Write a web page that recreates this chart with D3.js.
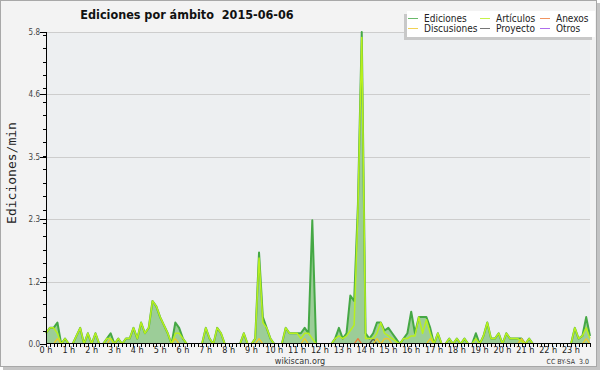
<!DOCTYPE html>
<html><head><meta charset="utf-8">
<script src="https://cdn.jsdelivr.net/npm/d3@7"></script>
<style>
body{margin:0;background:#fff;}
text{font-family:"DejaVu Sans Condensed","DejaVu Sans",sans-serif;font-stretch:condensed;white-space:pre;}
</style></head>
<body><svg id="c" width="600" height="370"></svg>
<script>
const title = "Ediciones por ámbito  2015-06-06";
const yLabel = "Ediciones/min";
const hourLabels = ["0 h","1 h","2 h","3 h","4 h","5 h","6 h","7 h","8 h","9 h","10 h","11 h","12 h","13 h","14 h","15 h","16 h","17 h","18 h","19 h","20 h","21 h","22 h","23 h"];
const yMax = 5.8;
const seriesNames = ["Ediciones","Artículos","Anexos","Discusiones","Proyecto","Otros"];
const seriesColors = ["#45a845","#b8f01e","#ee7a3a","#eec82a","#555555","#9a4ae8"];

// 10-minute buckets, 144 per day
const ediciones = [
0.2,0.3,0.3,0.4,0,0.1,0,0,0.15,0.3,
0,0.2,0,0.2,0,0,0.1,0.2,0,0.1,
0,0.1,0.1,0.3,0.1,0.4,0.2,0.3,0.8,0.7,
0.5,0.35,0.2,0,0.4,0.3,0.1,0,0,0,
0,0,0.3,0.1,0,0.3,0.2,0,0,0,
0,0,0.2,0,0,0.1,1.7,0.5,0.3,0.1,
0,0,0,0.3,0.2,0.2,0.2,0.2,0.3,0.2,
2.3,0,0,0,0,0,0.1,0.3,0.1,0.2,
0.9,0.8,2.6,5.8,0.2,0.1,0.2,0.4,0.4,0.25,
0.3,0.2,0.1,0,0.1,0.2,0.6,0.2,0.5,0.5,
0.5,0.3,0,0.2,0,0,0.1,0,0.1,0,
0.1,0,0,0.2,0,0.15,0.4,0.1,0.1,0.2,
0,0.2,0.1,0.1,0.1,0.1,0,0.1,0,0,
0,0,0,0,0,0,0,0,0,0.3,
0.1,0.15,0.5,0.15];
const articulos = [
0.2,0.3,0.3,0.2,0,0.1,0,0,0.15,0.3,
0,0.2,0,0.2,0,0,0.1,0.1,0,0.1,
0,0.1,0.1,0.3,0.1,0.4,0.2,0.3,0.8,0.7,
0.5,0.35,0.2,0,0.2,0.2,0.1,0,0,0,
0,0,0.3,0.1,0,0.3,0.2,0,0,0,
0,0,0.2,0,0,0.1,1.6,0.4,0.3,0.1,
0,0,0,0.3,0.2,0.2,0.2,0.1,0.2,0.2,
0.1,0,0,0,0,0,0.1,0.15,0.1,0.15,
0.25,0.35,2.5,5.7,0.1,0.1,0.1,0.2,0.4,0.2,
0.15,0.1,0.05,0,0.1,0.1,0.15,0.15,0.5,0.2,
0.45,0.2,0,0.2,0,0,0.1,0,0.1,0,
0.1,0,0,0.1,0,0.15,0.4,0.1,0.1,0.2,
0,0.2,0.1,0.1,0.1,0.05,0,0.1,0,0,
0,0,0,0,0,0,0,0,0,0.3,
0.1,0.15,0.3,0.1];
const anexos = [
0,0,0,0,0,0,0,0,0,0,
0,0,0,0,0,0,0,0,0,0,
0,0,0,0,0,0,0,0,0,0,
0,0,0,0,0,0,0,0,0,0,
0,0,0,0,0,0,0,0,0,0,
0,0,0,0,0,0,0,0,0,0,
0,0,0,0,0,0,0,0,0,0,
0,0,0,0,0,0,0,0,0,0,
0,0,0.1,0,0,0,0,0,0,0,
0,0,0,0,0,0,0,0,0,0,
0,0,0,0,0,0,0,0,0,0,
0,0,0,0,0,0,0,0,0,0,
0,0,0,0,0,0,0,0,0,0,
0,0,0,0,0,0,0,0,0,0,
0,0,0,0];
const discusiones = [
0,0,0,0.1,0,0,0,0,0,0,
0,0,0,0,0,0,0,0.1,0,0,
0,0,0,0,0,0,0,0,0,0,
0,0,0,0,0.1,0,0,0,0,0,
0,0,0,0,0,0,0,0,0,0,
0,0,0,0,0,0,0.1,0,0,0,
0,0,0,0,0,0,0,0,0.1,0,
0,0,0,0,0,0,0,0,0,0,
0,0,0,0,0,0,0,0.1,0,0.1,
0.1,0,0,0,0,0,0,0,0,0,
0,0.1,0,0,0,0,0,0,0,0,
0,0,0,0,0,0,0,0,0,0,
0,0,0,0,0,0.1,0,0,0,0,
0,0,0,0,0,0,0,0,0,0,
0,0,0.1,0];
const proyecto = [
0,0,0,0,0,0,0,0,0,0,
0,0,0,0,0,0,0,0,0,0,
0,0,0,0,0,0,0,0,0,0,
0,0,0,0,0,0,0,0,0,0,
0,0,0,0,0,0,0,0,0,0,
0,0,0,0,0,0,0,0,0,0,
0,0,0,0,0,0,0,0,0,0,
0,0,0,0,0,0,0,0,0,0,
0,0,0,0,0,0,0.1,0,0,0,
0,0,0,0,0,0,0,0,0,0,
0,0,0,0,0,0,0,0,0,0,
0,0,0,0,0,0,0,0,0,0,
0,0,0,0,0,0,0,0,0,0,
0,0,0,0,0,0,0,0,0,0,
0,0,0,0];
const otros = new Array(144).fill(0);

const svg = d3.select("#c");
// frame
svg.append("rect").attr("x",3).attr("y",3).attr("width",597).attr("height",367).attr("fill","#c4c4c4");
svg.append("rect").attr("x",0.5).attr("y",0.5).attr("width",596).attr("height",366).attr("fill","#f3f3f3").attr("stroke","#a8a8a8");

const x = d3.scaleLinear().domain([0,143]).range([46,590]);
const y = d3.scaleLinear().domain([0,yMax]).range([344,32]);

svg.append("rect").attr("x",46).attr("y",32).attr("width",544).attr("height",312).attr("fill","#edeff1");

const majors = d3.range(0,6).map(k=>yMax*k/5);
svg.append("g").selectAll("line").data(majors.slice(1)).join("line")
  .attr("x1",46).attr("x2",590).attr("y1",d=>Math.round(y(d))+0.5).attr("y2",d=>Math.round(y(d))+0.5)
  .attr("stroke","#cdcdcd").attr("stroke-width",1);

svg.append("clipPath").attr("id","clip").append("rect").attr("x",40).attr("y",10).attr("width",560).attr("height",333);
const g = svg.append("g").attr("clip-path","url(#clip)");

const area = d3.area().x((d,i)=>x(i)).y0(y(0)).y1(d=>y(d));
const line = d3.line().x((d,i)=>x(i)).y(d=>y(d));

g.append("path").datum(ediciones).attr("d",area).attr("fill","#9ccd98");
g.append("path").datum(ediciones).attr("d",line).attr("fill","none").attr("stroke",seriesColors[0]).attr("stroke-width",2).attr("stroke-linejoin","round");
const others = [[otros,5],[proyecto,4],[discusiones,3],[anexos,2],[articulos,1]];
others.forEach(([arr,k])=>{
  g.append("path").datum(arr).attr("d",line).attr("fill","none").attr("stroke",seriesColors[k]).attr("stroke-width",k===1?1.5:1.3).attr("stroke-linejoin","round");
});

// axes
const yAxis = svg.append("g");
yAxis.append("line").attr("x1",46.5).attr("x2",46.5).attr("y1",32).attr("y2",344).attr("stroke","#000");
yAxis.selectAll("line.mj").data(majors).join("line").attr("class","mj")
  .attr("x1",40).attr("x2",46).attr("y1",d=>Math.round(y(d))+0.5).attr("y2",d=>Math.round(y(d))+0.5).attr("stroke","#000");
yAxis.selectAll("line.mn").data(d3.range(0,yMax,0.25)).join("line").attr("class","mn")
  .attr("x1",43).attr("x2",46).attr("y1",d=>Math.round(y(d))+0.5).attr("y2",d=>Math.round(y(d))+0.5).attr("stroke","#000");
yAxis.selectAll("text").data(majors).join("text")
  .attr("x",40).attr("y",d=>y(d)+3).attr("text-anchor","end").attr("font-size",8).attr("fill","#444")
  .text(d=>d.toFixed(1));

const xAxis = svg.append("g");
xAxis.append("line").attr("x1",46).attr("x2",591).attr("y1",343.5).attr("y2",343.5).attr("stroke","#000");
xAxis.selectAll("line.t").data(d3.range(0,144)).join("line").attr("class","t")
  .attr("x1",d=>Math.round(x(d))+0.5).attr("x2",d=>Math.round(x(d))+0.5).attr("y1",344).attr("y2",347).attr("stroke","#000");
xAxis.selectAll("text").data(hourLabels).join("text")
  .attr("x",(d,i)=>x(i*6)).attr("y",353).attr("text-anchor","middle").attr("font-size",9).attr("fill","#222")
  .text(d=>d);

svg.append("text").attr("x",187).attr("y",19).attr("text-anchor","middle").attr("font-size",12.5).attr("font-weight","bold").attr("fill","#111").text(title);
svg.append("text").attr("transform","translate(16,173) rotate(-90)").attr("text-anchor","middle")
  .style("font-family","'DejaVu Sans Mono',monospace").style("font-stretch","normal").attr("font-size",13).attr("fill","#222").text(yLabel);
svg.append("text").attr("x",300).attr("y",364).attr("text-anchor","middle").attr("font-size",9).attr("fill","#333").text("wikiscan.org");
svg.append("text").attr("x",589).attr("y",364).attr("text-anchor","end").attr("font-size",7).attr("fill","#333").text("CC BY-SA  3.0");

// legend
const lg = svg.append("g");
lg.append("rect").attr("x",404).attr("y",14).attr("width",188).attr("height",26).attr("fill","#c8c8c8");
lg.append("rect").attr("x",407).attr("y",11).attr("width",188).attr("height",26).attr("fill","#fff");
const legPos = [[0,0],[1,0],[2,0],[0,1],[1,1],[2,1]];
const colX = [408,480,540];
const legOrder = [0,1,2,3,4,5];
legOrder.forEach((k,j)=>{
  const [c,r] = legPos[j];
  const ly = 18.5 + r*10;
  lg.append("line").attr("x1",colX[c]).attr("x2",colX[c]+10).attr("y1",ly).attr("y2",ly).attr("stroke",seriesColors[k]).attr("stroke-width",1).attr("opacity",0.8);
  lg.append("text").attr("x",colX[c]+16).attr("y",ly+3.5).attr("font-size",10).attr("fill","#222").text(seriesNames[k]);
});
</script></body></html>
